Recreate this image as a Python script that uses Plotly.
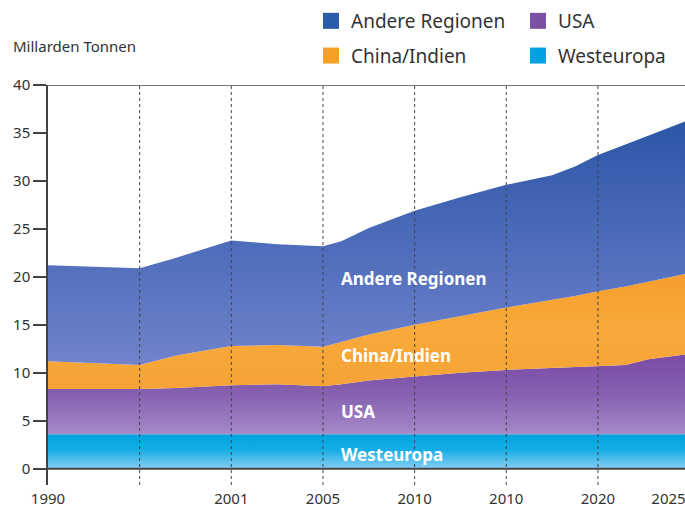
import plotly.graph_objects as go

# Position on the (irregular) time axis, one unit per gridline interval
zeitpunkt = [0, 1, 1.4, 2, 2.5, 3, 3.2, 3.5, 4, 4.5, 5, 5.5, 5.75, 6, 6.3, 6.55, 6.95]

# Emissions per region (Milliarden Tonnen), stacked bottom -> top
westeuropa = [3.6] * 17
usa = [4.7, 4.7, 4.8, 5.1, 5.2, 5.0, 5.2, 5.6, 6.0, 6.4, 6.7, 6.9, 7.0, 7.1, 7.2, 7.8, 8.3]
china_indien = [2.9, 2.5, 3.4, 4.1, 4.1, 4.1, 4.4, 4.8, 5.4, 5.9, 6.5, 7.1, 7.4, 7.8, 8.2, 8.1, 8.4]
andere = [10.0, 10.1, 10.2, 11.0, 10.5, 10.5, 10.5, 11.1, 11.9, 12.4, 12.8, 13.0, 13.5, 14.2, 14.8, 15.2, 15.9]

# Axis
x_tickvals = [0, 2, 3, 4, 5, 6, 6.77]
x_ticktext = ["1990", "2001", "2005", "2010", "2010", "2020", "2025"]
grid_positions = [1, 2, 3, 4, 5, 6]
y_tickvals = [0, 5, 10, 15, 20, 25, 30, 35, 40]
x_max = 6.95
y_min, y_max = -1.7, 40

FONT = "Noto Sans"
AXIS_COL = "#444444"
TEXT_COL = "#333333"

fig = go.Figure()

series = [
    ("Westeuropa", westeuropa, dict(type="vertical", start=0, stop=3.6,
                                    colorscale=[[0, "#86d0f3"], [0.55, "#16ace5"], [1, "#00a3e0"]])),
    ("USA", usa, dict(type="vertical", start=3.6, stop=12,
                      colorscale=[[0, "#a58ac8"], [0.5, "#8560b0"], [1, "#7a4aa6"]])),
    ("China/Indien", china_indien, dict(type="vertical", start=8, stop=21,
                                        colorscale=[[0, "#f5a236"], [0.5, "#f8aa3a"], [1, "#f59c2c"]])),
    ("Andere Regionen", andere, dict(type="vertical", start=10, stop=36,
                                     colorscale=[[0, "#7384cc"], [0.5, "#4e6dba"], [1, "#2c56a6"]])),
]

for name, vals, grad in series:
    fig.add_trace(go.Scatter(
        x=zeitpunkt, y=vals, name=name, stackgroup="one", mode="lines",
        line=dict(width=0), fillgradient=grad, showlegend=False, hoverinfo="skip"))

legend_items = [
    ("Andere Regionen", "#2b5ca8", "legend"),
    ("China/Indien", "#f7a024", "legend"),
    ("USA", "#7b51a1", "legend2"),
    ("Westeuropa", "#00a3e2", "legend2"),
]
for i, (name, col, lg) in enumerate(legend_items):
    fig.add_trace(go.Scatter(
        x=[None], y=[None], mode="markers", name=name, legend=lg, legendgroup=f"g{i}",
        marker=dict(symbol="square", size=16, color=col)))

# dotted vertical gridlines (drawn above the areas)
for gx in grid_positions:
    fig.add_shape(type="line", xref="x", yref="y", x0=gx, x1=gx, y0=y_min, y1=y_max,
                  line=dict(color=AXIS_COL, width=1, dash="dot"), layer="above")
# baseline and top line
fig.add_shape(type="line", xref="x", yref="y", x0=0, x1=x_max, y0=0, y1=0,
              line=dict(color=AXIS_COL, width=2), layer="above")
fig.add_shape(type="line", xref="x", yref="y", x0=0, x1=x_max, y0=y_max, y1=y_max,
              line=dict(color=AXIS_COL, width=1.5), layer="above")

# in-area labels
labels = [("Andere Regionen", 19.8), ("China/Indien", 11.8), ("USA", 6.0), ("Westeuropa", 1.45)]
for txt, yv in labels:
    fig.add_annotation(x=3.17, y=yv, xref="x", yref="y", text=f"<b>{txt}</b>",
                       showarrow=False, xanchor="left", yanchor="middle",
                       font=dict(family=FONT, size=17, color="white"))

fig.add_annotation(x=(11 - 48) / 637, y=(485 - 46) / 400, xref="paper", yref="paper",
                   text="Millarden Tonnen", showarrow=False, xanchor="left", yanchor="middle",
                   font=dict(family=FONT, size=15, color=TEXT_COL))

fig.update_layout(
    width=685, height=507,
    margin=dict(l=48, r=0, t=85, b=22, autoexpand=False),
    paper_bgcolor="white", plot_bgcolor="white",
    font=dict(family=FONT, color=TEXT_COL),
    xaxis=dict(range=[0, x_max], tickvals=x_tickvals, ticktext=x_ticktext,
               showgrid=False, zeroline=False, showline=False, ticks="",
               automargin=False, ticklabeloverflow="allow", ticklabelstandoff=3,
               tickfont=dict(size=15, color=TEXT_COL)),
    yaxis=dict(range=[y_min, y_max], tickvals=y_tickvals, showgrid=False, zeroline=False,
               showline=True, linecolor=AXIS_COL, linewidth=1.5, automargin=False,
               ticks="outside", ticklen=13, tickwidth=1.5, tickcolor=AXIS_COL,
               tickfont=dict(size=15, color=TEXT_COL)),
    legend=dict(xref="container", yref="container", x=311 / 685, y=1 - 2 / 507,
                xanchor="left", yanchor="top", orientation="v",
                tracegroupgap=7, font=dict(size=19, color=TEXT_COL), bgcolor="rgba(0,0,0,0)"),
    legend2=dict(xref="container", yref="container", x=518 / 685, y=1 - 2 / 507,
                 xanchor="left", yanchor="top", orientation="v",
                 tracegroupgap=7, font=dict(size=19, color=TEXT_COL), bgcolor="rgba(0,0,0,0)"),
)

fig.write_html("out.html", config={"displayModeBar": False},
               post_script="document.body.style.margin='0';document.body.style.overflow='hidden';")
